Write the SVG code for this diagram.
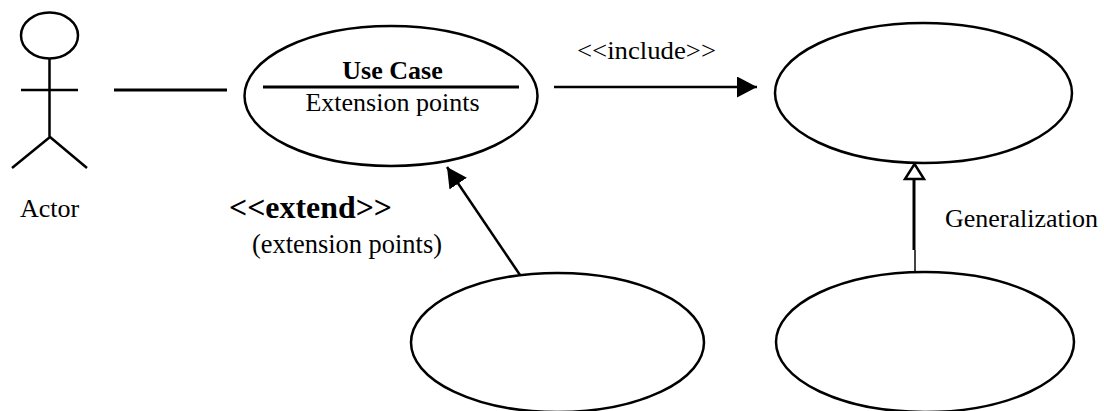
<svg xmlns="http://www.w3.org/2000/svg" width="1104" height="411" viewBox="0 0 1104 411">
<style>
.s{fill:none;stroke:#000;stroke-width:2.5}
.e{fill:#fff;stroke:#000;stroke-width:2.5}
text{font-family:"Liberation Serif","Times New Roman",serif;fill:#000;font-size:26px}
.b{font-weight:bold}
</style>
<defs>
<marker id="solid" markerUnits="userSpaceOnUse" markerWidth="22" markerHeight="22" refX="20" refY="10.500" orient="auto"><path d="M0 0L20 10.500L0 21Z" fill="#000"/></marker>
</defs>
<rect width="1104" height="411" fill="#fff"/>
<g id="connectors">
<path class="s" style="stroke-width:3" d="M114 90H227"/>
<path class="s" d="M554 87H757" marker-end="url(#solid)"/>
<path class="s" d="M520 275L447 167" marker-end="url(#solid)"/>
<path class="s" style="stroke-width:3" d="M914 179V250"/>
<path fill="none" stroke="#444" stroke-width="2" d="M915 250V272"/>
<path fill="#fff" stroke="#000" stroke-width="2.500" d="M914.500 164L924 179H905Z"/>
</g>
<g id="actor">
<ellipse class="s" cx="49.500" cy="35.500" rx="28.500" ry="23"/>
<path class="s" d="M49.500 58V137M21 90H78M50 137L12 168M50 137L87 168"/>
<text x="20" y="217">Actor</text>
</g>
<g id="use-case">
<ellipse class="e" cx="391" cy="96" rx="146.500" ry="70"/>
<text class="b" x="392.500" y="78.500" text-anchor="middle">Use Case</text>
<path class="s" style="stroke-width:3" d="M263 87H519"/>
<text x="392.500" y="111" text-anchor="middle">Extension points</text>
</g>
<g id="included-use-case"><ellipse class="e" cx="923.500" cy="93" rx="148.500" ry="70"/></g>
<g id="extending-use-case"><ellipse class="e" cx="557.500" cy="342.500" rx="146.500" ry="69.500"/></g>
<g id="child-use-case"><ellipse class="e" cx="925" cy="342" rx="149" ry="70"/></g>
<g id="labels">
<text x="577" y="59" textLength="139" lengthAdjust="spacingAndGlyphs">&lt;&lt;include&gt;&gt;</text>
<text class="b" x="229" y="218" textLength="163" lengthAdjust="spacingAndGlyphs" style="font-size:32px">&lt;&lt;extend&gt;&gt;</text>
<text x="252" y="253" textLength="190" lengthAdjust="spacingAndGlyphs" style="font-size:27px">(extension points)</text>
<text x="945" y="227">Generalization</text>
</g>
</svg>
